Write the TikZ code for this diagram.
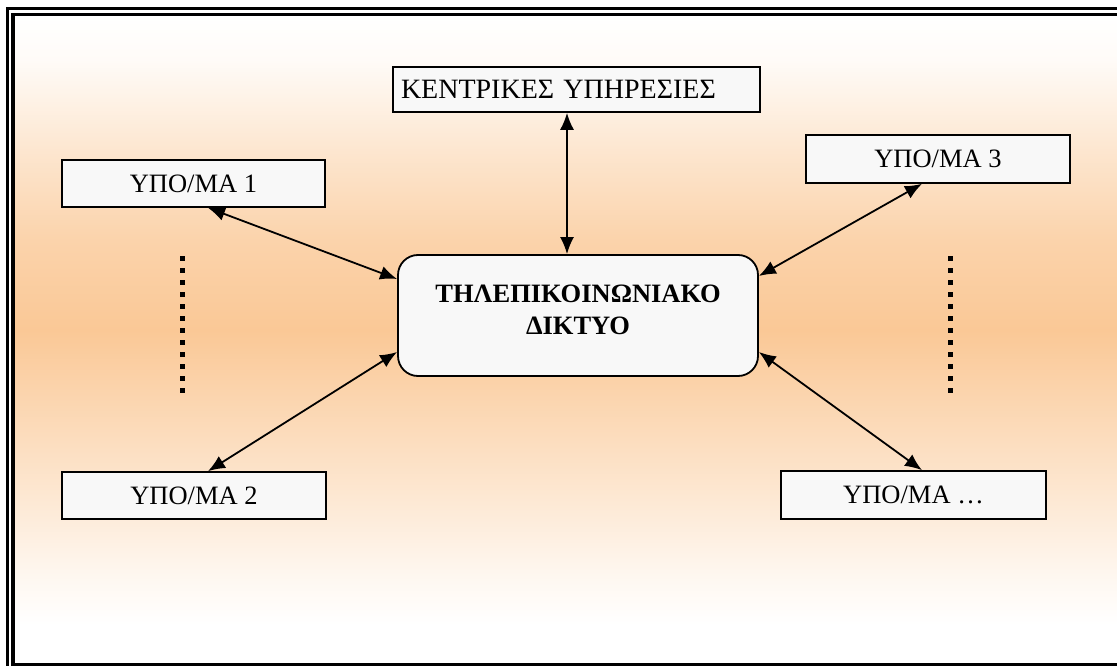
\documentclass[tikz,border=0pt]{standalone}
\usepackage{fontspec}
\setmainfont{Liberation Serif}
\usetikzlibrary{arrows.meta}
\definecolor{peach}{RGB}{250,200,150}
\definecolor{boxfill}{RGB}{248,248,248}
\tikzset{
  subbox/.style={draw=black, line width=1.6pt, fill=boxfill, inner sep=0pt,
    font=\fontsize{26.5}{31}\selectfont},
  netbox/.style={draw=black, line width=1.8pt, fill=boxfill, rounded corners=20pt, inner sep=0pt},
  link/.style={line width=1.8pt, {Latex[length=17pt,width=14pt]}-{Latex[length=17pt,width=14pt]}},
  dots/.style={line width=5pt, dash pattern=on 5pt off 7pt},
  frame/.style={draw=black, line width=3pt}
}
\begin{document}
\begin{tikzpicture}[x=1pt,y=-1pt]
\useasboundingbox (0,0) rectangle (1117,666);
% background gradient
\fill[white] (0,0) rectangle (1117,666);
\shade[top color=white, bottom color=peach!7] (13,14.3) rectangle (1120,60.5);
\shade[top color=peach!7, bottom color=peach!45] (13,60) rectangle (1120,150.5);
\shade[top color=peach!45, bottom color=peach!80] (13,150) rectangle (1120,240.5);
\shade[top color=peach!80, bottom color=peach] (13,240) rectangle (1120,330.5);
\shade[top color=peach, bottom color=peach!58] (13,330) rectangle (1120,450.5);
\shade[top color=peach!58, bottom color=peach!34] (13,450) rectangle (1120,520.5);
\shade[top color=peach!34, bottom color=peach!13] (13,520) rectangle (1120,580.5);
\shade[top color=peach!13, bottom color=white] (13,580) rectangle (1120,625);
% frame
\draw[frame] (7.3,8.7) rectangle (1130,680);
\draw[frame, line width=3.5pt] (13,14.3) rectangle (1122,664.5);
% nodes
\node[subbox, font=\fontsize{28}{32}\selectfont, minimum width=367pt, minimum height=45pt, text width=351pt, align=left] (ken) at (576.5,89.5) {ΚΕΝΤΡΙΚΕΣ ΥΠΗΡΕΣΙΕΣ};
\node[subbox, minimum width=263pt, minimum height=47pt] (sub1) at (193.5,183.5) {ΥΠΟ/ΜΑ 1};
\node[subbox, minimum width=264pt, minimum height=47pt] (sub2) at (194,495.5) {ΥΠΟ/ΜΑ 2};
\node[subbox, minimum width=264pt, minimum height=48pt] (sub3) at (938,159) {ΥΠΟ/ΜΑ 3};
\node[subbox, minimum width=265pt, minimum height=48pt] (sub4) at (913.5,495) {ΥΠΟ/ΜΑ …};
\node[netbox, minimum width=360pt, minimum height=121pt] (net) at (578,315.5) {};
\node[font=\fontsize{26.5}{32}\selectfont\bfseries, align=center, inner sep=0pt] (netlabel) at (578,310) {ΤΗΛΕΠΙΚΟΙΝΩΝΙΑΚΟ\\ΔΙΚΤΥΟ};
% connectors
\draw[link] ([xshift=14.5pt]sub1.south) -- ([yshift=36.5pt]net.west);
\draw[link] ([xshift=14pt]sub2.north) -- ([yshift=-36.5pt]net.west);
\draw[link] ([xshift=-16pt]sub3.south) -- ([yshift=39.5pt]net.east);
\draw[link] ([xshift=8.5pt]sub4.north) -- ([yshift=-36.5pt]net.east);
\draw[link] ([xshift=-9.5pt]ken.south) -- ([xshift=-11pt]net.north);
% dotted separators
\coordinate (dla) at (182,256);
\coordinate (dlb) at (182,394);
\coordinate (dra) at (950,256);
\coordinate (drb) at (950,394);
\draw[dots] (dla) -- (dlb);
\draw[dots] (dra) -- (drb);
\end{tikzpicture}
\end{document}
